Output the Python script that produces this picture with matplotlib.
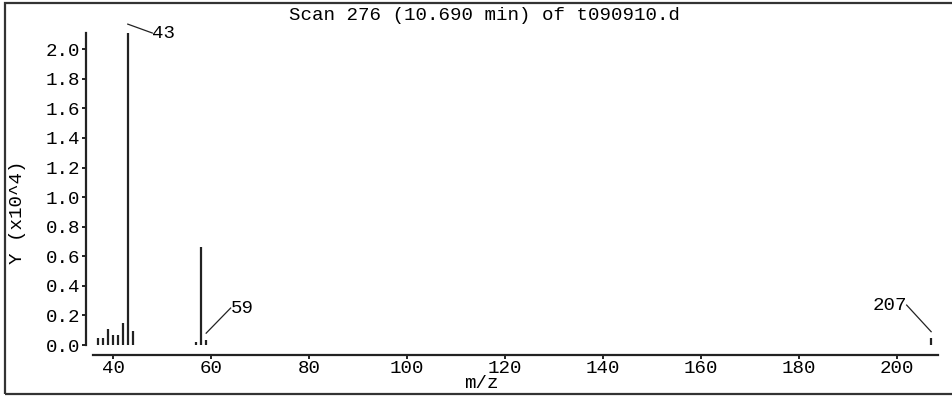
import matplotlib
matplotlib.use("Agg")
from matplotlib import pyplot as plt
from matplotlib.patches import Rectangle

# mass spectrum, scan 276
mz = [37, 38, 39, 40, 41, 42, 43, 44, 57, 58, 59, 207]
abundance = [0.05, 0.05, 0.11, 0.065, 0.065, 0.15, 2.11, 0.095, 0.02, 0.66, 0.035, 0.045]  # x10^4

# labelled peaks: (m/z, height, text)
label_mz = [43, 59, 207]
label_y = [2.11, 0.08, 0.09]
label_text = ["43", "59", "207"]

title = "Scan 276 (10.690 min) of t090910.d"
xticks = [40, 60, 80, 100, 120, 140, 160, 180, 200]
yticks = [0.0, 0.2, 0.4, 0.6, 0.8, 1.0, 1.2, 1.4, 1.6, 1.8, 2.0]

font = "Liberation Mono"
fs = 13.8

W, H = 953, 396
fig = plt.figure(figsize=(W / 100, H / 100), dpi=100)
ax = fig.add_axes([93 / W, 1 - 345 / H, (938 - 93) / W, (345 - 33) / H])

ax.vlines(mz, 0, abundance, color="#222222", linewidth=1.6)
ax.set_xlim(35.9, 208.4)
ax.set_ylim(0, 2.11)

ax.spines["top"].set_visible(False)
ax.spines["right"].set_visible(False)
ax.spines["left"].set_position(("outward", 5))
ax.spines["bottom"].set_position(("outward", 7))
for s in ("left", "bottom"):
    ax.spines[s].set_linewidth(1.6)
    ax.spines[s].set_color("#222222")

ax.set_xticks(xticks)
ax.set_xticklabels([str(t) for t in xticks], family=font, fontsize=fs)
ax.set_yticks(yticks)
ax.set_yticklabels(["%.1f" % t for t in yticks], family=font, fontsize=fs)
ax.tick_params(direction="out", length=3, width=1.4, color="#222222")
ax.tick_params(axis="y", pad=1)
ax.tick_params(axis="x", pad=1)

# peak labels with leader lines
offsets = [(5, 0.0, "left"), (5, 0.17, "left"), (-5, 0.18, "right")]
for x, y, t, (dx, dy, ha) in zip(label_mz, label_y, label_text, offsets):
    if t == "43":
        x0, y0 = x, y + 0.06
    else:
        x0, y0 = x, y
    ax.plot([x0, x + dx], [y0, y + dy], color="#222222", linewidth=0.9, clip_on=False)
    ax.text(x + dx, y + dy, t, family=font, fontsize=fs, ha=ha, va="center",
            clip_on=False)

fig.text(0.508, 1 - 15 / H, title, family=font, fontsize=fs, ha="center", va="center")
fig.text(0.505, 1 - 384 / H, "m/z", family=font, fontsize=fs, ha="center", va="center")
fig.text(18 / W, 1 - 212 / H, "Y (x10^4)", family=font, fontsize=fs, ha="center",
         va="center", rotation=90)

# frame around the figure
fig.patches.append(Rectangle((5 / W, 1 - 394 / H), 1.0, (394 - 3) / H,
                             transform=fig.transFigure, fill=False,
                             edgecolor="#333333", linewidth=1.6))

fig.savefig("out.png", dpi=100)
